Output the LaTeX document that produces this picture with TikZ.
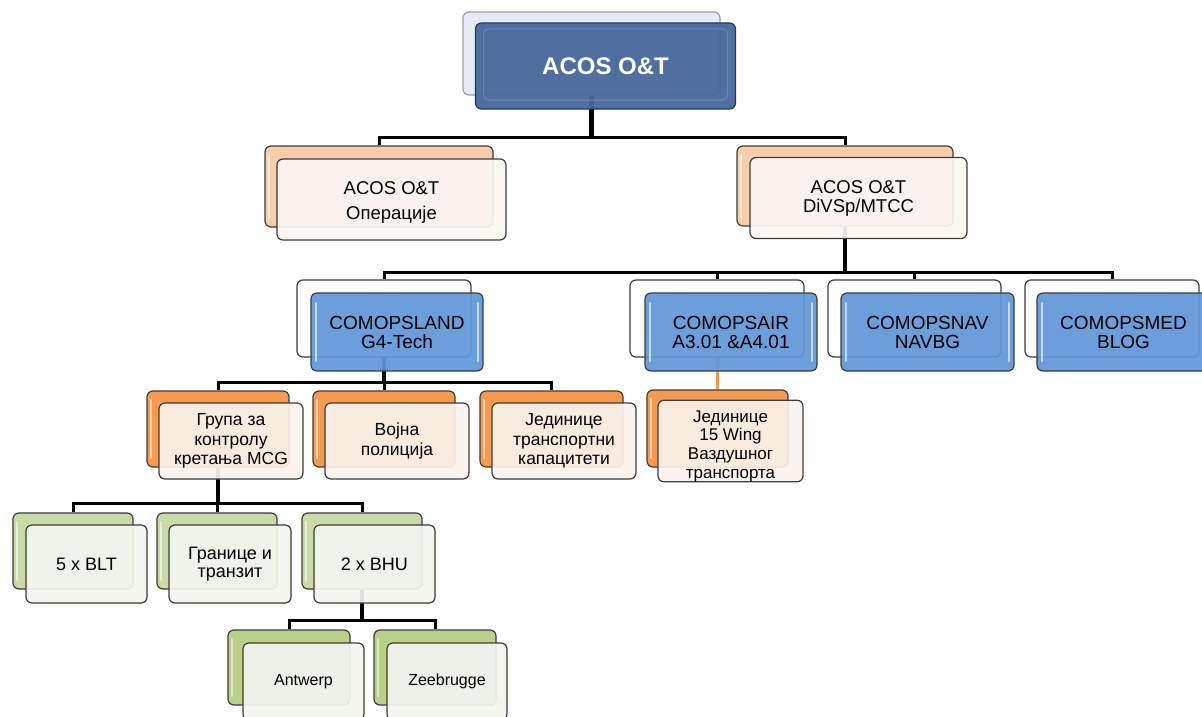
\documentclass[tikz,border=0pt]{standalone}
\usepackage{fontspec}
\setmainfont{Liberation Sans}
\usetikzlibrary{backgrounds}
\definecolor{cBord}{HTML}{3C3C3C}
\definecolor{cTop}{HTML}{46699B}
\definecolor{cTopD}{HTML}{1F3A5E}
\definecolor{cTopBack}{HTML}{E4ECF5}
\definecolor{cPeach}{HTML}{F9CDAA}
\definecolor{cCream}{HTML}{FBF7F3}
\definecolor{cBlue}{HTML}{6096D8}
\definecolor{cOrange}{HTML}{F59A50}
\definecolor{cCreamO}{HTML}{FBF2EC}
\definecolor{cGreenA}{HTML}{C9DBA6}
\definecolor{cGreenB}{HTML}{B9CF8A}
\definecolor{cGreenF}{HTML}{F3F6EE}
\definecolor{cOrLine}{HTML}{F79646}
\newcommand\ftop{\fontsize{24}{26}\selectfont\bfseries}
\newcommand\fb{\fontsize{18.5}{19}\selectfont}
\newcommand\fc{\fontsize{19}{19}\selectfont}
\newcommand\fd{\fontsize{17.5}{19.5}\selectfont}
\newcommand\fe{\fontsize{17}{18.7}\selectfont}
\newcommand\ff{\fontsize{18}{17.5}\selectfont}
\newcommand\fg{\fontsize{16}{18}\selectfont}
\tikzset{
  bx/.style={draw=cBord, line width=1.2pt, rounded corners=6pt, inner sep=0pt, align=center},
  sz/.style 2 args={minimum width=#1pt, minimum height=#2pt},
  backbox/.style={bx},
  frontbox/.style={bx, fill opacity=0.92, text opacity=1},
  glossl/.style={path picture={
    \draw[#1, line width=2.2pt, line cap=round]
      ([shift={(4pt,-9pt)}]path picture bounding box.north west) --
      ([shift={(4pt,9pt)}]path picture bounding box.south west);}},
  glosslr/.style={path picture={
    \draw[#1, line width=2pt, line cap=round]
      ([shift={(5pt,-10pt)}]path picture bounding box.north west) --
      ([shift={(5pt,10pt)}]path picture bounding box.south west);
    \draw[#1, line width=2pt, line cap=round]
      ([shift={(-5pt,-10pt)}]path picture bounding box.north east) --
      ([shift={(-5pt,10pt)}]path picture bounding box.south east);}},
  topin/.style={path picture={
    \draw[cTop!80!white, line width=1pt, rounded corners=5pt]
      ([shift={(8pt,-6pt)}]path picture bounding box.north west) rectangle
      ([shift={(-8pt,9pt)}]path picture bounding box.south east);}},
  link/.style={draw=black, line width=3pt},
  stem/.style={draw=black, line width=4.5pt},
  orlink/.style={draw=cOrLine, line width=3pt}
}
\begin{document}
\begin{tikzpicture}[x=1pt,y=-1pt]
\useasboundingbox (0,0) rectangle (1202,717);
\clip (0,0) rectangle (1202,717);

% level 1
\node[backbox, draw=gray!75, fill=cTopBack, sz={257}{83}] (topb) at (591.5,53.5) {};
\node[bx, draw=cTopD, fill=cTop, fill opacity=0.95, text opacity=1, topin, sz={260}{86}, font=\ftop, text=white] (top) at (605.5,66) {ACOS O\&T};

% level 2
\node[backbox, fill=cPeach, glossl=white!60!cPeach, sz={228}{81}] (opsb) at (379,186.5) {};
\node[frontbox, fill=cCream, sz={229}{81}, font=\fb] (ops) at (391.5,199.5) {\rule{0pt}{19pt}ACOS O\&T\\[6pt]Операције};
\node[backbox, fill=cPeach, glossl=white!60!cPeach, sz={216}{80}] (divb) at (845,186) {};
\node[frontbox, fill=cCream, sz={217}{81}, font=\fb] (div) at (858.5,198) {ACOS O\&T\\DiVSp/MTCC};

% level 3
\node[backbox, fill=white, sz={174}{77}] (landb) at (384,318.5) {};
\node[frontbox, fill=cBlue, glosslr=white!65!cBlue, sz={172}{78}, font=\fc] (land) at (397,332) {COMOPSLAND\\G4-Tech};
\node[backbox, fill=white, sz={174}{77}] (airb) at (717,318.5) {};
\node[frontbox, fill=cBlue, glosslr=white!65!cBlue, sz={172}{78}, font=\fc] (air) at (731,332) {COMOPSAIR\\A3.01 \&A4.01};
\node[backbox, fill=white, sz={173}{77}] (navb) at (914.5,318.5) {};
\node[frontbox, fill=cBlue, glosslr=white!65!cBlue, sz={173}{78}, font=\fc] (nav) at (927.5,332) {COMOPSNAV\\NAVBG};
\node[backbox, fill=white, sz={174}{77}] (medb) at (1112,318.5) {};
\node[frontbox, fill=cBlue, glosslr=white!65!cBlue, sz={173}{78}, font=\fc] (med) at (1123.5,332) {COMOPSMED\\BLOG};

% level 4
\node[backbox, fill=cOrange, glossl=white!55!cOrange, sz={142}{76}] (mcgb) at (218,429) {};
\node[frontbox, fill=cCreamO, sz={144}{76}, font=\fd] (mcg) at (231,441) {Група за\\контролу\\кретања MCG};
\node[backbox, fill=cOrange, glossl=white!55!cOrange, sz={142}{76}] (polb) at (384,429) {};
\node[frontbox, fill=cCreamO, sz={144}{76}, font=\fd] (pol) at (397,441) {Војна\\полиција};
\node[backbox, fill=cOrange, glossl=white!55!cOrange, sz={143}{76}] (capb) at (551.5,429) {};
\node[frontbox, fill=cCreamO, sz={144}{76}, font=\fd] (cap) at (564,441) {Јединице\\транспортни\\капацитети};
\node[backbox, fill=cOrange, glossl=white!55!cOrange, sz={141}{77}] (wingb) at (717.5,428.5) {};
\node[frontbox, fill=cCreamO, sz={145}{76}, font=\fe] (wing) at (730.5,441) {\rule{0pt}{22pt}Јединице\\15 Wing\\Ваздушног\\транспорта};

% level 5
\node[backbox, fill=cGreenA, glossl=white!55!cGreenA, sz={120}{76}] (bltb) at (73,551) {};
\node[frontbox, fill=cGreenF, sz={121}{78}, font=\ff] (blt) at (86.5,564) {5 x BLT};
\node[backbox, fill=cGreenA, glossl=white!55!cGreenA, sz={120}{76}] (grb) at (217,551) {};
\node[frontbox, fill=cGreenF, sz={122}{78}, font=\ff] (gr) at (230,564) {Границе и\\транзит};
\node[backbox, fill=cGreenA, glossl=white!55!cGreenA, sz={120}{76}] (bhub) at (362,551) {};
\node[frontbox, fill=cGreenF, sz={121}{78}, font=\ff] (bhu) at (374.5,564) {2 x BHU};

% level 6
\node[backbox, fill=cGreenB, glossl=white!55!cGreenB, sz={122}{75}] (antb) at (289,667.5) {};
\node[frontbox, fill=cGreenF, sz={121}{77}, font=\fg] (ant) at (303.5,681.5) {Antwerp};
\node[backbox, fill=cGreenB, glossl=white!55!cGreenB, sz={122}{75}] (zeeb) at (435,667.5) {};
\node[frontbox, fill=cGreenF, sz={120}{77}, font=\fg] (zee) at (447,681.5) {Zeebrugge};

\coordinate (bus1) at (0,137);
\coordinate (bus2) at (0,272);
\coordinate (bus3) at (0,382);
\coordinate (bus5) at (0,503);
\coordinate (bus6) at (0,620);

\begin{scope}[on background layer]
\draw[stem] (topb.south) -- (topb.south |- bus1);
\draw[link] (topb.south |- bus1) -| (opsb.north);
\draw[link] (topb.south |- bus1) -| (divb.north);

\draw[stem] (divb.south) -- (divb.south |- bus2);
\draw[link] (divb.south |- bus2) -| (landb.north);
\draw[link] (divb.south |- bus2) -| (airb.north);
\draw[link] (divb.south |- bus2) -| (navb.north);
\draw[link] (divb.south |- bus2) -| (medb.north);

\draw[stem] (landb.south) -- (landb.south |- bus3);
\draw[link] (landb.south |- bus3) -| (mcgb.north);
\draw[link] (landb.south |- bus3) -| (polb.north);
\draw[link] (landb.south |- bus3) -| (capb.north);

\draw[orlink] (airb.south) -- (airb.south |- wingb.north);

\draw[stem] (mcgb.south) -- (mcgb.south |- bus5);
\draw[link] (mcgb.south |- bus5) -| (bltb.north);
\draw[link] (mcgb.south |- bus5) -| (grb.north);
\draw[link] (mcgb.south |- bus5) -| (bhub.north);

\draw[stem] (bhub.south) -- (bhub.south |- bus6);
\draw[link] (bhub.south |- bus6) -| (antb.north);
\draw[link] (bhub.south |- bus6) -| (zeeb.north);
\end{scope}
\end{tikzpicture}
\end{document}
